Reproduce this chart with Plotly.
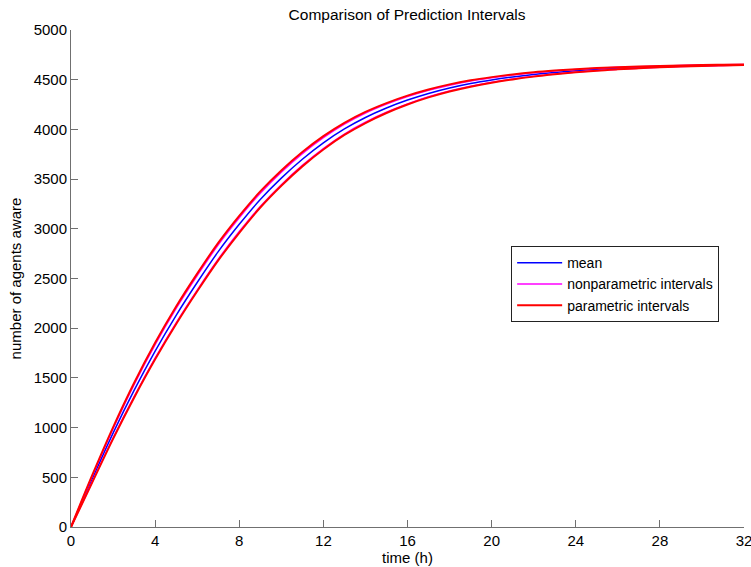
import plotly.graph_objects as go

# Hours since start of the simulation
hours = list(range(0, 33))

# Mean number of agents aware at each hour
mean_aware = [0, 480, 945, 1375, 1770, 2130, 2460, 2770, 3045, 3295, 3510,
              3700, 3865, 4005, 4120, 4215, 4295, 4362, 4417, 4462, 4498,
              4528, 4553, 4573, 4590, 4604, 4615, 4624, 4632, 4638, 4643,
              4647, 4651]

# Nonparametric prediction interval bounds
nonpar_upper = [0, 508, 990, 1433, 1835, 2199, 2529, 2839, 3111, 3358, 3570,
                3756, 3917, 4053, 4164, 4254, 4330, 4393, 4445, 4487, 4520,
                4548, 4570, 4588, 4602, 4614, 4624, 4631, 4637, 4643, 4647,
                4650, 4653]
nonpar_lower = [0, 449, 895, 1311, 1699, 2054, 2383, 2694, 2972, 3225, 3444,
                3638, 3807, 3953, 4072, 4172, 4256, 4328, 4386, 4434, 4474,
                4506, 4534, 4557, 4576, 4593, 4606, 4616, 4626, 4633, 4639,
                4644, 4648]

# Parametric prediction interval bounds
par_upper = [0, 516, 1003, 1449, 1853, 2218, 2549, 2858, 3130, 3376, 3587,
             3772, 3932, 4066, 4176, 4265, 4340, 4402, 4453, 4494, 4526,
             4553, 4575, 4592, 4606, 4617, 4626, 4633, 4639, 4644, 4648,
             4651, 4654]
par_lower = [0, 444, 887, 1301, 1687, 2042, 2371, 2682, 2960, 3214, 3433,
             3628, 3798, 3944, 4064, 4165, 4250, 4322, 4381, 4430, 4470,
             4503, 4531, 4554, 4574, 4591, 4604, 4615, 4625, 4632, 4638,
             4643, 4648]

x_ticks = [0, 4, 8, 12, 16, 20, 24, 28, 32]

FONT = "Liberation Sans, Arial, sans-serif"

fig = go.Figure()

fig.add_trace(go.Scatter(x=hours, y=mean_aware, mode="lines", name="mean",
                         line=dict(color="#0000FF", width=1.5, shape="spline")))

fig.add_trace(go.Scatter(x=hours, y=nonpar_upper, mode="lines",
                         name="nonparametric intervals", legendgroup="np",
                         line=dict(color="#FF00FF", width=1.5, shape="spline")))
fig.add_trace(go.Scatter(x=hours, y=nonpar_lower, mode="lines",
                         name="nonparametric intervals", legendgroup="np",
                         showlegend=False,
                         line=dict(color="#FF00FF", width=1.5, shape="spline")))

fig.add_trace(go.Scatter(x=hours, y=par_upper, mode="lines",
                         name="parametric intervals", legendgroup="p",
                         line=dict(color="#FF0000", width=2, shape="spline")))
fig.add_trace(go.Scatter(x=hours, y=par_lower, mode="lines",
                         name="parametric intervals", legendgroup="p",
                         showlegend=False,
                         line=dict(color="#FF0000", width=2, shape="spline")))

fig.update_layout(
    width=751, height=567,
    margin=dict(l=71, r=7, t=30, b=40, autoexpand=False),
    paper_bgcolor="white", plot_bgcolor="white",
    font=dict(family=FONT, size=15, color="black"),
    title=dict(text="Comparison of Prediction Intervals", x=0.542, xanchor="center",
               y=0.975, yanchor="middle", font=dict(size=15.5, color="black")),
    showlegend=True,
    legend=dict(x=0.654, y=0.565, xanchor="left", yanchor="top",
                bgcolor="white", bordercolor="#222222", borderwidth=1,
                itemwidth=45,
                font=dict(size=14, color="black"), tracegroupgap=0),
)

fig.update_xaxes(
    range=[0, 32], tickvals=x_ticks, ticktext=[str(v) for v in x_ticks],
    showline=True, linecolor="#707070", linewidth=1, mirror=False,
    ticks="inside", ticklen=7, tickcolor="#707070",
    showgrid=False, zeroline=False, ticklabeloverflow="allow",
    automargin=True,
    title=dict(text="time (h)", standoff=2, font=dict(size=15)),
    tickfont=dict(size=15),
)
fig.update_yaxes(
    range=[0, 5000], dtick=500,
    showline=True, linecolor="#707070", linewidth=1, mirror=False,
    ticks="inside", ticklen=7, tickcolor="#707070",
    showgrid=False, zeroline=False, automargin=False,
    title=dict(text="number of agents aware", standoff=8, font=dict(size=15)),
    tickfont=dict(size=15),
)

fig.write_html("out.html")
